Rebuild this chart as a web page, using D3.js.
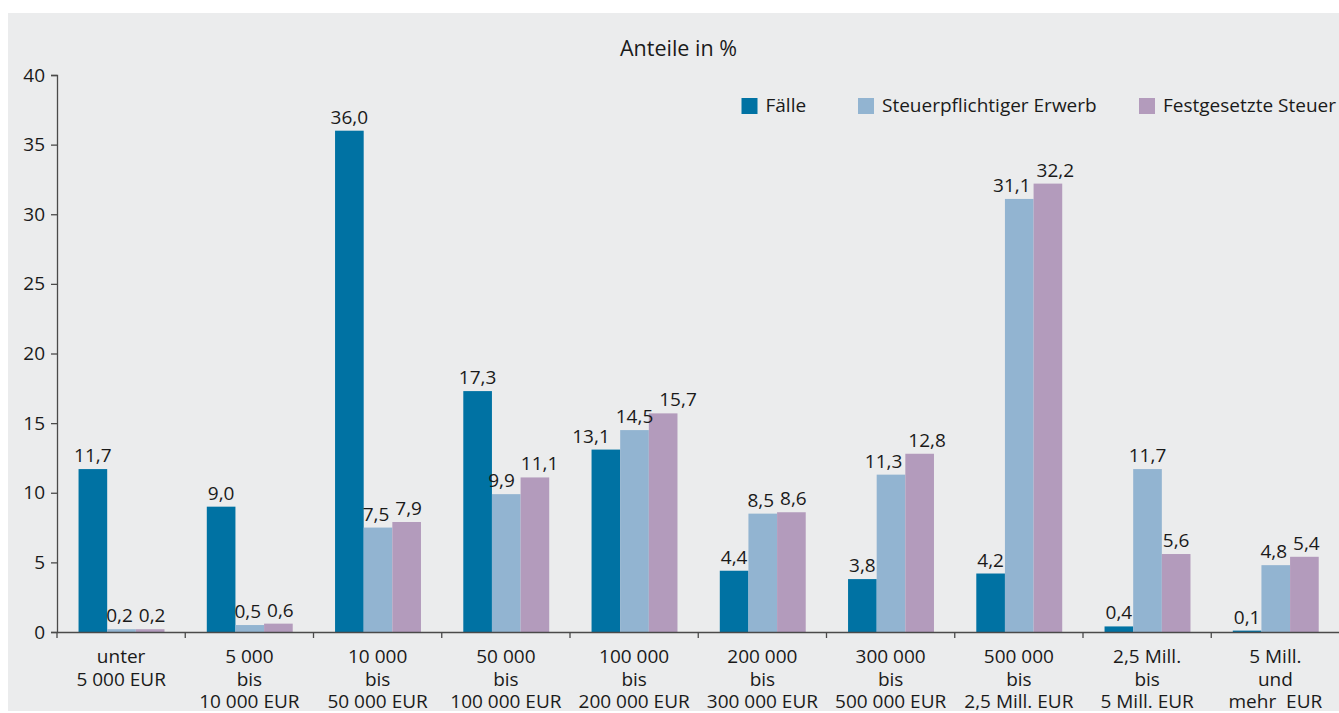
<!DOCTYPE html>
<html>
<head>
<meta charset="utf-8">
<script src="https://cdn.jsdelivr.net/npm/d3@7/dist/d3.min.js"></script>
<style>
  html, body { margin: 0; padding: 0; background: #ffffff; }
  svg { display: block; }
  text { font-family: "Open Sans", "Noto Sans", sans-serif; fill: #1a1a1a; }
</style>
</head>
<body>
<svg id="chart" width="1339" height="713"></svg>
<script>
// Size classes of the acquisition (German labels, one line per entry)
const categories = [
  ["unter", "5 000 EUR"],
  ["5 000", "bis", "10 000 EUR"],
  ["10 000", "bis", "50 000 EUR"],
  ["50 000", "bis", "100 000 EUR"],
  ["100 000", "bis", "200 000 EUR"],
  ["200 000", "bis", "300 000 EUR"],
  ["300 000", "bis", "500 000 EUR"],
  ["500 000", "bis", "2,5 Mill. EUR"],
  ["2,5 Mill.", "bis", "5 Mill. EUR"],
  ["5 Mill.", "und", "mehr  EUR"]
];

const seriesNames = ["Fälle", "Steuerpflichtiger Erwerb", "Festgesetzte Steuer"];
const faelle      = [11.7, 9.0, 36.0, 17.3, 13.1, 4.4, 3.8, 4.2, 0.4, 0.1];
const erwerb      = [0.2, 0.5, 7.5, 9.9, 14.5, 8.5, 11.3, 31.1, 11.7, 4.8];
const steuer      = [0.2, 0.6, 7.9, 11.1, 15.7, 8.6, 12.8, 32.2, 5.6, 5.4];
const yTicks      = [0, 5, 10, 15, 20, 25, 30, 35, 40];

const colors = ["#0072a3", "#92b4d1", "#b39bbc"];
const seriesValues = [faelle, erwerb, steuer];

const svg = d3.select("#chart");

// grey panel behind the chart
svg.append("rect")
  .attr("x", 8).attr("y", 13)
  .attr("width", 1331).attr("height", 698)
  .attr("fill", "#ebeced");

const catIdx = categories.map((d, i) => i);

const x0 = d3.scaleBand().domain(catIdx).range([57, 1339.5]).padding(0);
const bw = x0.bandwidth();
const x1 = d3.scaleBand().domain(d3.range(seriesNames.length))
  .range([bw * 0.168, bw * 0.838]).padding(0);
const y = d3.scaleLinear().domain([0, 40]).range([632, 75]);

const fmt = d3.formatLocale({ decimal: ",", thousands: ".", grouping: [3], currency: ["", "€"] }).format(".1f");

// title
svg.append("text")
  .attr("x", 678.5).attr("y", 55.5)
  .attr("text-anchor", "middle")
  .style("font-size", "21.5px")
  .text("Anteile in %");

// y axis
const yAxis = svg.append("g")
  .attr("transform", "translate(57,0)")
  .call(d3.axisLeft(y).tickValues(yTicks).tickSize(6).tickSizeOuter(6).tickPadding(6));
yAxis.select(".domain").attr("stroke", "#4a4a4a").attr("stroke-width", 1.3);
yAxis.selectAll(".tick line").attr("stroke", "#4a4a4a").attr("stroke-width", 1.3);
yAxis.selectAll(".tick text")
  .style("font-size", "19px")
  .style("font-family", "'Open Sans', sans-serif")
  .attr("fill", "#1a1a1a");

// bars
const groups = svg.append("g").selectAll("g")
  .data(catIdx)
  .join("g")
  .attr("transform", i => `translate(${x0(i)},0)`);

groups.selectAll("rect")
  .data(i => seriesValues.map((vals, s) => ({ s, v: vals[i] })))
  .join("rect")
  .attr("x", d => x1(d.s))
  .attr("width", x1.bandwidth())
  .attr("y", d => y(d.v))
  .attr("height", d => y(0) - y(d.v))
  .attr("fill", d => colors[d.s]);

// value labels above the bars
groups.each(function (i) {
  const g = d3.select(this);
  const labels = seriesValues.map((vals, s) => ({ s, v: vals[i], cx: x1(s) + x1.bandwidth() / 2 }));
  const texts = g.selectAll("text.val")
    .data(labels)
    .join("text")
    .attr("class", "val")
    .attr("x", d => d.cx)
    .attr("y", d => y(d.v) - 7)
    .attr("text-anchor", "middle")
    .style("font-size", "19px")
    .text(d => fmt(d.v));

  // spread neighbouring labels apart when they collide
  const nodes = texts.nodes();
  const boxes = nodes.map(n => n.getBBox());
  const shift = labels.map(() => 0);
  for (let iter = 0; iter < 5; iter++) {
    for (let k = 0; k < boxes.length - 1; k++) {
      const a = boxes[k], b = boxes[k + 1];
      const ax2 = a.x + shift[k] + a.width;
      const bx1 = b.x + shift[k + 1];
      const vOverlap = a.y < b.y + b.height + 3 && b.y < a.y + a.height + 3;
      const minGap = 6;
      if (vOverlap && bx1 - ax2 < minGap) {
        const push = (minGap - (bx1 - ax2)) / 2;
        shift[k] -= push;
        shift[k + 1] += push;
      }
    }
  }
  texts.attr("x", (d, k) => d.cx + shift[k]);
});

// x axis line and category boundary ticks
const xAxis = svg.append("g")
  .attr("transform", `translate(0,${y(0)})`)
  .call(d3.axisBottom(x0).tickSize(0).tickSizeOuter(0).tickFormat(() => ""));
xAxis.select(".domain").attr("stroke", "#4a4a4a").attr("stroke-width", 1.3);

svg.append("g").selectAll("line")
  .data(catIdx)
  .join("line")
  .attr("x1", i => x0(i)).attr("x2", i => x0(i))
  .attr("y1", y(0)).attr("y2", y(0) + 6)
  .attr("stroke", "#4a4a4a").attr("stroke-width", 1.3);

// category labels, one text element per line
svg.append("g").selectAll("text")
  .data(catIdx.flatMap(i => categories[i].map((t, k) => ({ t, k, cx: x0(i) + bw / 2 }))))
  .join("text")
  .attr("x", d => d.cx)
  .attr("y", d => 663 + d.k * 22.5)
  .attr("text-anchor", "middle")
  .style("font-size", "19px")
  .style("white-space", "pre")
  .text(d => d.t);

// legend
const legendX = [741.5, 858, 1139];
const legend = svg.append("g").selectAll("g")
  .data(seriesNames)
  .join("g")
  .attr("transform", (d, i) => `translate(${legendX[i]},98)`);
legend.append("rect")
  .attr("width", 16).attr("height", 16)
  .attr("fill", (d, i) => colors[i]);
legend.append("text")
  .attr("x", 24).attr("y", 14)
  .style("font-size", "19px")
  .text(d => d);
</script>
</body>
</html>
